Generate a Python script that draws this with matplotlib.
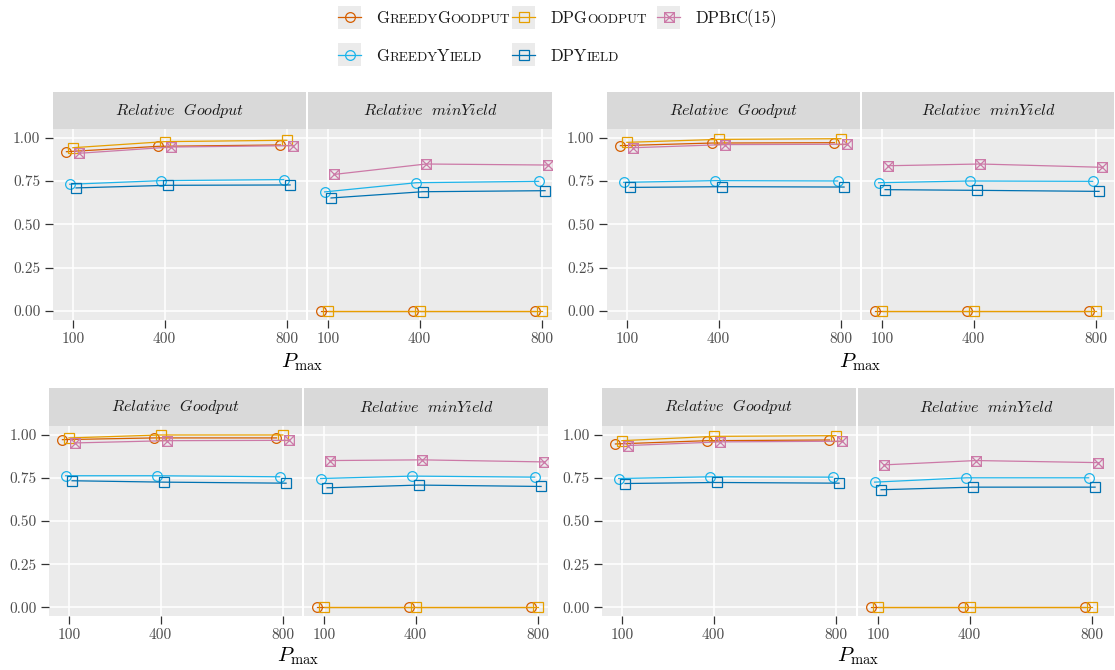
import matplotlib
import matplotlib.pyplot as plt
from matplotlib.path import Path
from matplotlib.patches import Rectangle

plt.rcParams['mathtext.fontset'] = 'cm'
plt.rcParams['font.family'] = ['cmr10', 'DejaVu Serif']
plt.rcParams['axes.unicode_minus'] = False

# data
p_max = [100, 400, 800]
series = ['GreedyGoodput', 'GreedyYield', 'DPGoodput', 'DPYield', 'DPBiC(15)']
colors = ['#D55E00', '#1DB4EA', '#E69F00', '#0072B2', '#CC79A7']
y_ticks = [0.0, 0.25, 0.5, 0.75, 1.0]
y_labels = ['0.00', '0.25', '0.50', '0.75', '1.00']

# one list per series, in the order of `series`
tl_goodput = [[0.919, 0.950, 0.958], [0.731, 0.752, 0.758], [0.942, 0.977, 0.985],
              [0.710, 0.725, 0.727], [0.910, 0.946, 0.954]]
tl_minyield = [[0, 0, 0], [0.687, 0.740, 0.748], [0, 0, 0],
               [0.652, 0.688, 0.694], [0.788, 0.848, 0.842]]
tr_goodput = [[0.954, 0.969, 0.971], [0.742, 0.752, 0.750], [0.973, 0.990, 0.994],
              [0.713, 0.717, 0.715], [0.942, 0.960, 0.962]]
tr_minyield = [[0, 0, 0], [0.740, 0.750, 0.748], [0, 0, 0],
               [0.700, 0.696, 0.690], [0.838, 0.848, 0.829]]
bl_goodput = [[0.971, 0.981, 0.981], [0.762, 0.762, 0.756], [0.981, 0.998, 0.998],
              [0.733, 0.725, 0.719], [0.952, 0.965, 0.967]]
bl_minyield = [[0, 0, 0], [0.746, 0.760, 0.754], [0, 0, 0],
               [0.692, 0.708, 0.700], [0.850, 0.854, 0.842]]
br_goodput = [[0.946, 0.965, 0.969], [0.746, 0.756, 0.754], [0.965, 0.990, 0.994],
              [0.717, 0.723, 0.719], [0.937, 0.958, 0.962]]
br_minyield = [[0, 0, 0], [0.725, 0.750, 0.750], [0, 0, 0],
               [0.681, 0.696, 0.696], [0.825, 0.850, 0.838]]

# square with a cross inside (ggplot shape 7)
bic_marker = Path([(-1, -1), (1, -1), (1, 1), (-1, 1), (-1, -1),
                   (-1, -1), (1, 1), (-1, 1), (1, -1)],
                  [Path.MOVETO, Path.LINETO, Path.LINETO, Path.LINETO, Path.CLOSEPOLY,
                   Path.MOVETO, Path.LINETO, Path.MOVETO, Path.LINETO])
markers = ['o', 'o', 's', 's', bic_marker]
dodge = [-21, -10.5, 0, 10.5, 21]

W, H = 1115, 670
fig = plt.figure(figsize=(W / 100, H / 100), dpi=100)


def panel(l, r, top, strip_b, bottom, title, data, first):
    ax = fig.add_axes([l / W, 1 - bottom / H, (r - l) / W, (bottom - strip_b) / H])
    ax.set_facecolor('#EBEBEB')
    for s in ax.spines.values():
        s.set_visible(False)
    ax.set_xlim(35, 35 + (r - l) * 700 / 214)
    ax.set_ylim(-0.05, 1.05)
    ax.set_xticks(p_max)
    ax.set_xticklabels([str(v) for v in p_max])
    ax.set_yticks(y_ticks)
    ax.set_yticklabels(y_labels)
    ax.grid(True, color='white', lw=1.1)
    ax.set_axisbelow(True)
    ax.tick_params(length=5.5, width=0.9, color='#333333', labelcolor='#4D4D4D',
                   labelsize=11, pad=3.5)
    if not first:
        ax.tick_params(axis='y', length=0, labelleft=False)
    for vals, m, c, d in zip(data, markers, colors, dodge):
        xs = [p + d for p in p_max]
        ax.plot(xs, vals, color=c, lw=0.9, marker=m, ms=7, mfc='none', mew=0.9)

    sax = fig.add_axes([l / W, 1 - strip_b / H, (r - l) / W, (strip_b - top) / H])
    sax.set_facecolor('#D9D9D9')
    sax.set_xticks([])
    sax.set_yticks([])
    for s in sax.spines.values():
        s.set_visible(False)
    sax.text(0.5, 0.5, title, ha='center', va='center', fontsize=11.5,
             color='#1A1A1A', transform=sax.transAxes)


groups = [
    (53, 306, 308, 552, 92, 129, 319.6, tl_goodput, tl_minyield, 362),
    (607, 860, 862, 1114, 92, 129, 319.6, tr_goodput, tr_minyield, 362),
    (49, 302, 304, 548, 388, 426, 616, bl_goodput, bl_minyield, 656),
    (602, 856, 858, 1114, 388, 426, 616, br_goodput, br_minyield, 656),
]
for l1, r1, l2, r2, top, sb, bot, good, miny, lab_y in groups:
    panel(l1, r1, top, sb, bot, r'$Relative\ \ Goodput$', good, True)
    panel(l2, r2, top, sb, bot, r'$Relative\ \ min Yield$', miny, False)
    fig.text((l1 + r2) / 2 / W, 1 - lab_y / H, r'$P_{\max}$', ha='center',
             va='center', fontsize=15)

# legend drawn by hand so the labels can be in small caps
lax = fig.add_axes([0, 0, 1, 1])
lax.set_xlim(0, W)
lax.set_ylim(H, 0)
lax.axis('off')
renderer = fig.canvas.get_renderer()


def small_caps(x, y, label):
    runs = []
    for ch in label:
        low = ch.islower()
        if runs and runs[-1][1] == low:
            runs[-1][0] += ch
        else:
            runs.append([ch, low])
    for txt, low in runs:
        t = lax.text(x, y, txt.upper(), fontsize=9.6 if low else 12.0,
                     va='baseline', ha='left', color='#1A1A1A')
        x += t.get_window_extent(renderer).width


key_pos = [(338, 17), (338, 54.5), (512, 17), (512, 54.5), (657, 17)]
for (kx, ky), name, m, c in zip(key_pos, series, markers, colors):
    lax.add_patch(Rectangle((kx, ky - 11.5), 23, 23, fc='#EBEBEB', ec='none'))
    lax.plot([kx, kx + 23], [ky, ky], color=c, lw=0.9)
    lax.plot([kx + 11.5], [ky], color=c, marker=m, ms=7, mfc='none', mew=0.9)
    small_caps(kx + 38, ky + 6.3, name)

fig.savefig('out.png', dpi=100)
